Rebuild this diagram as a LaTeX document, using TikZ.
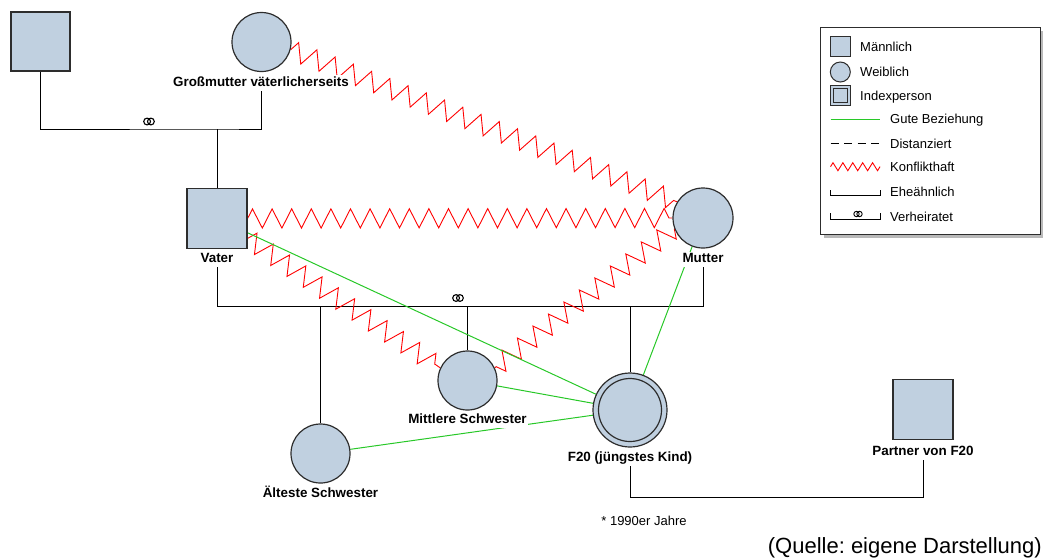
\documentclass[tikz,border=0pt]{standalone}
\usepackage{fontspec}
\setmainfont{Liberation Sans}
\usetikzlibrary{decorations.pathmorphing,calc}
\pgfdeclarelayer{background}
\pgfsetlayers{background,main}
\definecolor{pfill}{RGB}{192,208,224}
\definecolor{pline}{RGB}{45,45,45}
\definecolor{goodgreen}{RGB}{40,200,40}
\frenchspacing
\begin{document}
\begin{tikzpicture}[x=1pt,y=-1pt,
  male/.style={rectangle, draw=pline, fill=pfill, line width=1.2pt, minimum size=59pt, inner sep=0pt},
  female/.style={circle, draw=pline, fill=pfill, line width=1.2pt, minimum size=59pt, inner sep=0pt},
  lbl/.style={font=\bfseries\fontsize{13.4}{15}\selectfont, fill=white, inner sep=1pt, text height=10pt, text depth=3pt, anchor=base},
  leg/.style={font=\fontsize{13}{15}\selectfont, anchor=base west, inner sep=0pt},
  rel/.style={line width=1pt, black},
  good/.style={goodgreen, line width=1pt},
  conflict/.style={red, line width=0.9pt, decorate, decoration={zigzag, segment length=19.6pt, amplitude=9.6pt}},
  marr/.pic={\draw[line width=1.1pt] (-1.9,0) circle[radius=3.4] (1.9,0) circle[radius=3.4];},
  smallmarr/.pic={\draw[line width=0.9pt] (-1.5,0) circle[radius=2.7] (1.5,0) circle[radius=2.7];}
]
\useasboundingbox (0,0) rectangle (1043,558);

% grandparents
\node[male] (gf) at (40.5,41.5) {};
\node[female] (gm) at (261.5,42) {};
\node[lbl] (gml) at (261,86.3) {Großmutter väterlicherseits};
\coordinate (gpbar) at (217,129);

% parents
\node[male, minimum size=60pt] (vater) at (217,218.5) {};
\node[lbl] (vl) at (217,262.8) {Vater};
\node[female, minimum size=60pt] (mutter) at (703,218) {};
\node[lbl] (ml) at (703,262.8) {Mutter};
\coordinate (pl) at (217,306);
\coordinate (pr) at (703,306);

% children
\node[female] (aelt) at (320.5,453.5) {};
\node[lbl] (al) at (320.5,497.8) {Älteste Schwester};
\node[female] (mittl) at (467.5,380.5) {};
\node[lbl] (mil) at (467.5,423.8) {Mittlere Schwester};
\node[circle, draw=pline, fill=pfill, line width=1.2pt, minimum size=74pt, inner sep=0pt] (f20) at (630,410) {};
\node[circle, draw=pline, fill=pfill, line width=1.2pt, minimum size=63pt, inner sep=0pt] (f20in) at (f20.center) {};
\node[lbl] (fl) at (630,461.8) {F20 (jüngstes Kind)};
\node[male, minimum size=60pt] (partner) at (923,409.5) {};
\node[lbl] (pal) at (923,455.8) {Partner von F20};
\coordinate (pc) at (923,497);

\node[font=\fontsize{13}{15}\selectfont, anchor=base, inner sep=0pt] (note) at (644,525.5) {* 1990er Jahre};
\node[font=\fontsize{22}{26}\selectfont, anchor=base east, inner sep=0pt] (src) at (1042,553) {(Quelle: eigene Darstellung)};

\begin{pgfonlayer}{background}
  % family lines
  \draw[rel] (gf.south) |- (gpbar) -| (gml.south);
  \draw[rel] (gpbar) -- (vater.north);
  \draw[rel] (vl.south) -- (pl) -- (pr) -- (ml.south);
  \draw[rel] (aelt.north |- pl) -- (aelt.north);
  \draw[rel] (mittl.north |- pl) -- (mittl.north);
  \draw[rel] (f20.north |- pl) -- (f20.north);
  \draw[rel] (fl.south) |- (pc) -- (pal.south);
  % relationships
  \draw[conflict] (gm.-15) -- (mutter.148);
  \draw[conflict] (vater.east) -- (mutter.west);
  \draw[conflict] (vater.-33) -- (mittl.155);
  \draw[conflict] (mutter.200) -- (mittl.25);
  \draw[good] (vater.-25) -- (f20);
  \draw[good] (mittl) -- (f20);
  \draw[good] (aelt) -- (f20);
  \draw[good] (mutter) -- (f20);
\end{pgfonlayer}
\pic at (149,121.5) {marr};
\pic at (458,298) {marr};

% legend
\fill[gray!55] (824,31) rectangle (1044,238);
\node[draw=pline, fill=white, line width=1pt, minimum width=220pt, minimum height=206.5pt, inner sep=0pt, anchor=north west] (legend) at (820,27) {};
\node[male, minimum size=20pt, line width=1pt] (lm) at (840.3,46.5) {};
\node[leg] (lmt) at (860,51.7) {Männlich};
\node[female, minimum size=20pt, line width=1pt] (lw) at (840.3,72) {};
\node[leg] (lwt) at (860,76.7) {Weiblich};
\node[male, minimum size=20pt, line width=1pt] (li) at (840.3,95.7) {};
\node[draw=pline, line width=0.9pt, minimum size=14pt, inner sep=0pt] (li2) at (li.center) {};
\node[leg] (lit) at (860,100.7) {Indexperson};
\coordinate (g1) at (830.5,119);
\coordinate (g2) at (880,119);
\draw[good] (g1) -- (g2);
\node[leg] (lgt) at (890,123.7) {Gute Beziehung};
\coordinate (d1) at (830.5,143.3);
\coordinate (d2) at (880,143.3);
\draw[black, line width=1pt, dash pattern=on 8pt off 5.5pt] (d1) -- (d2);
\node[leg] (ldt) at (890,148) {Distanziert};
\coordinate (k1) at (830.5,166.7);
\coordinate (k2) at (880,166.7);
\draw[red, line width=0.9pt, decorate, decoration={zigzag, segment length=9.9pt, amplitude=4pt}] (k1) -- (k2);
\node[leg] (lkt) at (890,171.4) {Konflikthaft};
\coordinate (e1) at (830.5,190);
\coordinate (e2) at (880,190);
\draw[rel] (e1) -- ++(0,5.7) -| (e2);
\node[leg] (let) at (890,196.4) {Eheähnlich};
\coordinate (v1) at (830.5,213);
\coordinate (v2) at (880,213);
\draw[rel] (v1) -- ++(0,6) -| (v2);
\pic at (858,214) {smallmarr};
\node[leg] (lvt) at (890,221.4) {Verheiratet};
\end{tikzpicture}
\end{document}
